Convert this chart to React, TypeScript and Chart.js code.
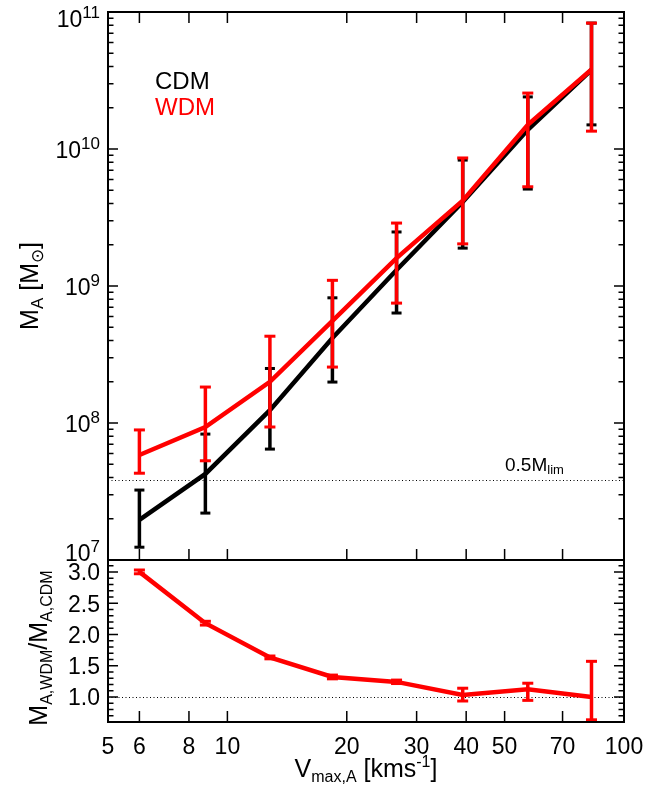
import { useEffect, useRef } from "react";
import { Chart, registerables } from "chart.js";
Chart.register(...registerables);

const FONT = '"Liberation Sans", Arial, Helvetica, sans-serif';

// ---- data ----
const vmax = [6, 8.8, 12.8, 18.4, 26.7, 39.2, 57.2, 82.8];
const cdmMass = [1.96e7, 4.25e7, 1.24e8, 4.17e8, 1.31e9, 4.1e9, 1.38e10, 3.78e10];
const cdmLow = [1.24e7, 2.2e7, 6.45e7, 1.99e8, 6.35e8, 1.89e9, 5.1e9, 1.5e10];
const cdmHigh = [3.24e7, 8.3e7, 2.5e8, 8.2e8, 2.48e9, 8.3e9, 2.4e10, 8.3e10];
const wdmMass = [5.84e7, 9.35e7, 2.0e8, 5.56e8, 1.6e9, 4.2e9, 1.5e10, 3.8e10];
const wdmLow = [4.3e7, 5.3e7, 9.35e7, 2.56e8, 7.5e8, 2.03e9, 5.3e9, 1.35e10];
const wdmHigh = [8.9e7, 1.83e8, 4.3e8, 1.1e9, 2.88e9, 8.6e9, 2.56e10, 8.3e10];
const ratio = [3.0, 2.18, 1.633, 1.32, 1.241, 1.032, 1.123, 1.0];
const ratioLow = [2.97, 2.15, 1.61, 1.29, 1.215, 0.936, 0.946, 0.635];
const ratioHigh = [3.03, 2.21, 1.655, 1.35, 1.27, 1.14, 1.22, 1.57];
const halfMlim = 3.84e7;

const xTickValues = [5, 6, 8, 10, 20, 30, 40, 50, 70, 100];
const xTickLabels = ["5", "6", "8", "10", "20", "30", "40", "50", "70", "100"];
const massTickExps = [7, 8, 9, 10, 11];
const ratioTickValues = [1.0, 1.5, 2.0, 2.5, 3.0];
const ratioTickLabels = ["1.0", "1.5", "2.0", "2.5", "3.0"];
const seriesNames = ["CDM", "WDM"];
const seriesColors = ["#000000", "#ff0000"];

type Part = { t: string; s: number; dy?: number };

function richWidth(ctx: CanvasRenderingContext2D, parts: Part[]) {
  let w = 0;
  for (const p of parts) {
    ctx.font = `${p.s}px ${FONT}`;
    w += ctx.measureText(p.t).width;
  }
  return w;
}

function drawRich(ctx: CanvasRenderingContext2D, parts: Part[], x: number, y: number, align: "left" | "center" | "right", color = "#000") {
  const w = richWidth(ctx, parts);
  let cx = align === "left" ? x : align === "center" ? x - w / 2 : x - w;
  ctx.save();
  ctx.fillStyle = color;
  ctx.textAlign = "left";
  ctx.textBaseline = "alphabetic";
  for (const p of parts) {
    ctx.font = `${p.s}px ${FONT}`;
    ctx.fillText(p.t, cx, y + (p.dy || 0));
    cx += ctx.measureText(p.t).width;
  }
  ctx.restore();
}

function drawErrors(chart: any, yId: string, lo: number[], hi: number[], color: string, capW: number) {
  const ctx: CanvasRenderingContext2D = chart.ctx;
  const xs = chart.scales.x;
  const ys = chart.scales[yId];
  ctx.save();
  ctx.strokeStyle = color;
  ctx.fillStyle = color;
  ctx.lineWidth = 3.5;
  for (let i = 0; i < vmax.length; i++) {
    const px = xs.getPixelForValue(vmax[i]);
    const y1 = ys.getPixelForValue(lo[i]);
    const y2 = ys.getPixelForValue(hi[i]);
    ctx.beginPath();
    ctx.moveTo(px, y1);
    ctx.lineTo(px, y2);
    ctx.stroke();
    ctx.fillRect(px - capW / 2, y1 - 1.5, capW, 3);
    ctx.fillRect(px - capW / 2, y2 - 1.5, capW, 3);
  }
  ctx.restore();
}

function drawXTicks(chart: any, top: boolean, bottom: boolean) {
  const ctx: CanvasRenderingContext2D = chart.ctx;
  const xs = chart.scales.x;
  const a = chart.chartArea;
  ctx.save();
  ctx.strokeStyle = "#000";
  ctx.lineWidth = 1.5;
  ctx.beginPath();
  for (const v of xTickValues) {
    const px = xs.getPixelForValue(v);
    if (top) { ctx.moveTo(px, a.top); ctx.lineTo(px, a.top + 11); }
    if (bottom) { ctx.moveTo(px, a.bottom); ctx.lineTo(px, a.bottom - 11); }
  }
  ctx.stroke();
  ctx.restore();
}

function drawYTicks(chart: any, yId: string, majors: number[], minors: number[]) {
  const ctx: CanvasRenderingContext2D = chart.ctx;
  const ys = chart.scales[yId];
  const a = chart.chartArea;
  ctx.save();
  ctx.strokeStyle = "#000";
  ctx.lineWidth = 1.5;
  ctx.beginPath();
  const put = (v: number, len: number) => {
    const py = ys.getPixelForValue(v);
    if (py < a.top - 0.5 || py > a.bottom + 0.5) return;
    ctx.moveTo(a.left, py); ctx.lineTo(a.left + len, py);
    ctx.moveTo(a.right, py); ctx.lineTo(a.right - len, py);
  };
  majors.forEach((v) => put(v, 10));
  minors.forEach((v) => put(v, 5.5));
  ctx.stroke();
  ctx.restore();
}

function drawFrame(chart: any) {
  const ctx: CanvasRenderingContext2D = chart.ctx;
  const a = chart.chartArea;
  ctx.save();
  ctx.strokeStyle = "#000";
  ctx.lineWidth = 2;
  ctx.strokeRect(a.left, a.top, a.right - a.left, a.bottom - a.top);
  ctx.restore();
}

function drawDotted(chart: any, yId: string, v: number) {
  const ctx: CanvasRenderingContext2D = chart.ctx;
  const ys = chart.scales[yId];
  const a = chart.chartArea;
  const py = Math.round(ys.getPixelForValue(v)) + 0.5;
  ctx.save();
  ctx.strokeStyle = "#000";
  ctx.lineWidth = 1;
  ctx.setLineDash([1, 2.5]);
  ctx.beginPath();
  ctx.moveTo(a.left, py);
  ctx.lineTo(a.right, py);
  ctx.stroke();
  ctx.restore();
}

const topPlugin = {
  id: "topDecor",
  beforeDatasetsDraw(chart: any) {
    drawDotted(chart, "y", halfMlim);
  },
  afterDatasetDraw(chart: any, args: any) {
    if (args.index === 0) drawErrors(chart, "y", cdmLow, cdmHigh, seriesColors[0], 10);
    else drawErrors(chart, "y", wdmLow, wdmHigh, seriesColors[1], 11);
  },
  afterDraw(chart: any) {
    const ctx: CanvasRenderingContext2D = chart.ctx;
    const a = chart.chartArea;
    const ys = chart.scales.y;
    drawFrame(chart);
    drawXTicks(chart, true, true);
    const majors = massTickExps.map((e) => Math.pow(10, e));
    const minors: number[] = [];
    for (let e = 7; e < 11; e++) for (let m = 2; m <= 9; m++) minors.push(m * Math.pow(10, e));
    drawYTicks(chart, "y", majors, minors);
    for (const e of massTickExps) {
      let py = ys.getPixelForValue(Math.pow(10, e));
      py = Math.min(Math.max(py, a.top + 6.5), a.bottom - 7.5);
      drawRich(ctx, [{ t: "10", s: 23 }, { t: String(e), s: 17, dy: -9 }], 100, py + 8.5, "right");
    }
    drawRich(ctx, [{ t: seriesNames[0], s: 24 }], 155, 89, "left", seriesColors[0]);
    drawRich(ctx, [{ t: seriesNames[1], s: 24 }], 155, 115, "left", seriesColors[1]);
    drawRich(ctx, [{ t: "0.5M", s: 19 }, { t: "lim", s: 13, dy: 3 }], 505, 471, "left");
    ctx.save();
    ctx.translate(38, 286);
    ctx.rotate(-Math.PI / 2);
    drawRich(ctx, [
      { t: "M", s: 25 }, { t: "A", s: 17, dy: 5 }, { t: " [M", s: 25 }, { t: "\u2299", s: 17, dy: 5 }, { t: "]", s: 25 },
    ], 0, 0, "center");
    ctx.restore();
  },
};

const bottomPlugin = {
  id: "bottomDecor",
  beforeDatasetsDraw(chart: any) {
    drawDotted(chart, "y", 1.0);
  },
  afterDatasetDraw(chart: any) {
    drawErrors(chart, "y", ratioLow, ratioHigh, seriesColors[1], 11);
  },
  afterDraw(chart: any) {
    const ctx: CanvasRenderingContext2D = chart.ctx;
    const a = chart.chartArea;
    const xs = chart.scales.x;
    const ys = chart.scales.y;
    drawFrame(chart);
    drawXTicks(chart, false, true);
    const minors: number[] = [];
    for (let k = 6; k <= 32; k++) if (k % 5 !== 0) minors.push(k / 10);
    drawYTicks(chart, "y", ratioTickValues, minors);
    ratioTickValues.forEach((v, i) => {
      const py = ys.getPixelForValue(v);
      drawRich(ctx, [{ t: ratioTickLabels[i], s: 23 }], 100, py + 8.5, "right");
    });
    xTickValues.forEach((v, i) => {
      const px = xs.getPixelForValue(v);
      drawRich(ctx, [{ t: xTickLabels[i], s: 23 }], px, a.bottom + 32, "center");
    });
    drawRich(ctx, [
      { t: "V", s: 25 }, { t: "max,A", s: 16, dy: 5 }, { t: " [kms", s: 25 }, { t: "-1", s: 16, dy: -10 }, { t: "]", s: 25 },
    ], (a.left + a.right) / 2, a.bottom + 55, "center");
    ctx.save();
    ctx.translate(47, 90);
    ctx.rotate(-Math.PI / 2);
    drawRich(ctx, [
      { t: "M", s: 25 }, { t: "A,WDM", s: 16, dy: 5 }, { t: "/M", s: 25 }, { t: "A,CDM", s: 16, dy: 5 },
    ], 0, 0, "center");
    ctx.restore();
  },
};

function pts(ys: number[]) {
  return vmax.map((x, i) => ({ x, y: ys[i] }));
}

export default function App() {
  const topRef = useRef<HTMLCanvasElement>(null);
  const botRef = useRef<HTMLCanvasElement>(null);

  useEffect(() => {
    const xScale = { type: "logarithmic" as const, min: 5, max: 100, display: false };
    const top = new Chart(topRef.current!, {
      type: "line",
      data: {
        datasets: [
          { label: seriesNames[0], data: pts(cdmMass), borderColor: seriesColors[0], borderWidth: 4.5, pointRadius: 0, tension: 0, order: 2 },
          { label: seriesNames[1], data: pts(wdmMass), borderColor: seriesColors[1], borderWidth: 4.5, pointRadius: 0, tension: 0, order: 1 },
        ],
      },
      options: {
        animation: false,
        responsive: false,
        devicePixelRatio: 1,
        layout: { padding: { left: 108, right: 44, top: 12, bottom: 2 } },
        scales: {
          x: xScale,
          y: { type: "logarithmic", min: 1e7, max: 1e11, display: false },
        },
        plugins: { legend: { display: false }, tooltip: { enabled: false } },
      },
      plugins: [topPlugin],
    });
    const bot = new Chart(botRef.current!, {
      type: "line",
      data: {
        datasets: [
          { label: "ratio", data: pts(ratio), borderColor: seriesColors[1], borderWidth: 4.5, pointRadius: 0, tension: 0 },
        ],
      },
      options: {
        animation: false,
        responsive: false,
        devicePixelRatio: 1,
        layout: { padding: { left: 108, right: 44, top: 2, bottom: 69 } },
        scales: {
          x: { ...xScale },
          y: { type: "linear", min: 0.6, max: 3.19, display: false },
        },
        plugins: { legend: { display: false }, tooltip: { enabled: false } },
      },
      plugins: [bottomPlugin],
    });
    return () => {
      top.destroy();
      bot.destroy();
    };
  }, []);

  return (
    <div style={{ position: "absolute", left: 0, top: 0, width: 668, height: 791, background: "#fff" }}>
      <canvas ref={topRef} width={668} height={562} style={{ position: "absolute", left: 0, top: 0, width: 668, height: 562 }} />
      <canvas ref={botRef} width={668} height={233} style={{ position: "absolute", left: 0, top: 558, width: 668, height: 233 }} />
    </div>
  );
}
